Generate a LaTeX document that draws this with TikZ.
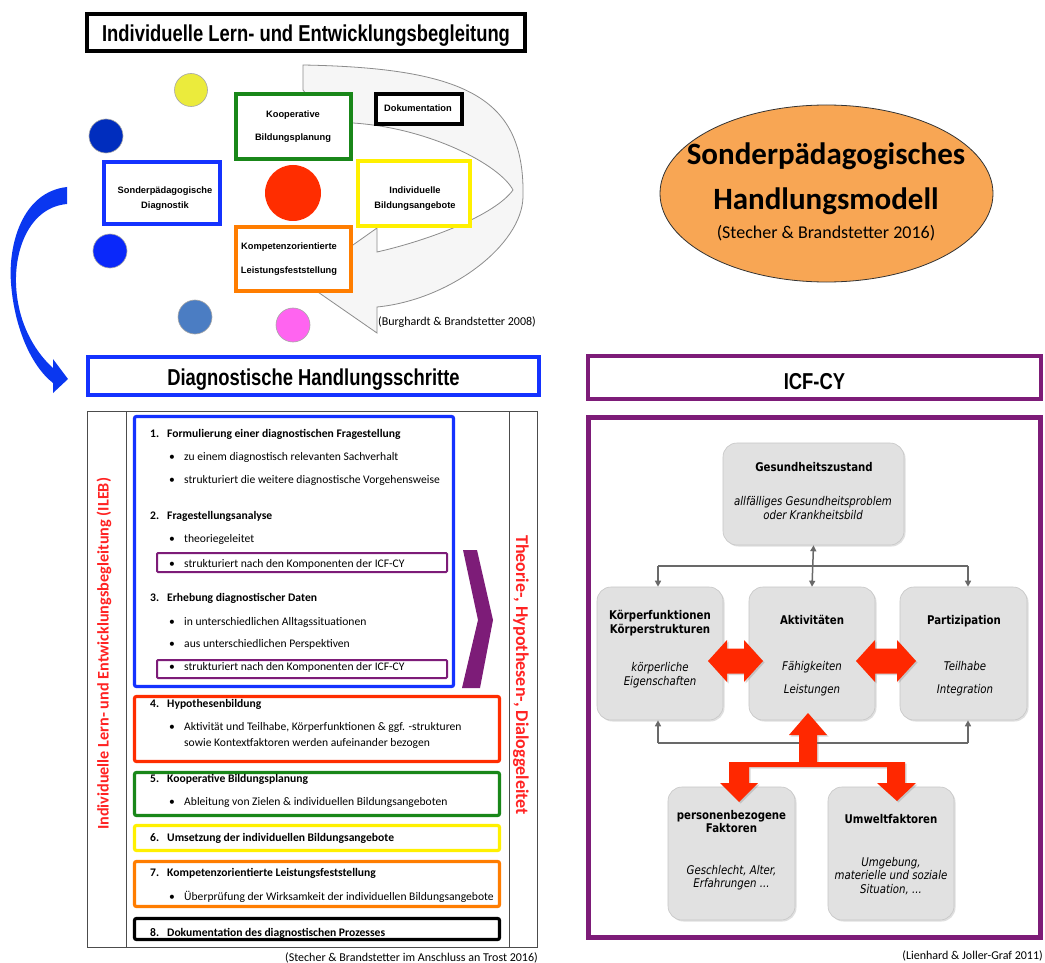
\documentclass[tikz,border=0pt]{standalone}
\usepackage{fontspec}
\setmainfont{Carlito}
\newfontfamily\narrowfont{Liberation Sans}[FakeStretch=0.8]
\newfontfamily\icffont{DejaVu Sans}[FakeStretch=0.85]
\newfontfamily\cyclefont{Liberation Sans}
\usetikzlibrary{shapes.geometric,arrows.meta,shadows}
\definecolor{cblue}{RGB}{20,50,255}
\definecolor{cnavy}{RGB}{0,45,190}
\definecolor{cblue2}{RGB}{10,40,250}
\definecolor{csteel}{RGB}{75,125,195}
\definecolor{cmag}{RGB}{255,100,240}
\definecolor{cyel}{RGB}{235,235,60}
\definecolor{cyellow}{RGB}{255,240,0}
\definecolor{cgreen}{RGB}{25,135,25}
\definecolor{corange}{RGB}{255,125,0}
\definecolor{cred}{RGB}{255,45,0}
\definecolor{cpurple}{RGB}{125,28,120}
\definecolor{cellipse}{RGB}{248,166,84}
\definecolor{icfgray}{RGB}{225,225,225}
\definecolor{icfdark}{RGB}{105,105,105}
\definecolor{redtext}{RGB}{255,35,35}
\definecolor{bandgray}{RGB}{246,246,246}
\definecolor{bandline}{RGB}{140,140,140}
\definecolor{arrowred}{RGB}{255,40,0}
\definecolor{arrowblue}{RGB}{10,55,240}
\tikzset{
  Tri/.tip={Triangle[length=6pt,width=6pt]},
  shad/.style={drop shadow={shadow xshift=1.5pt,shadow yshift=-1.5pt,opacity=0.3}},
  hdr/.style={draw, line width=4pt, fill=white, inner sep=0pt, shad},
  hdrtext/.style={font=\narrowfont\bfseries\fontsize{23}{26}\selectfont, anchor=base, inner sep=0pt},
  cbox/.style={draw, line width=3.5pt, fill=white, inner sep=0pt, shad},
  ctext/.style={font=\cyclefont\bfseries\fontsize{9.3}{11}\selectfont, anchor=base, inner sep=0pt},
  circ/.style={circle, draw=gray!70, line width=0.6pt, inner sep=0pt},
  sbox/.style={draw, line width=3.2pt, rounded corners=2pt, fill=white, inner sep=0pt,
     drop shadow={shadow xshift=1pt,shadow yshift=-1pt,opacity=0.25}},
  pbox/.style={draw=cpurple, line width=2pt, rounded corners=1pt, fill=white, inner sep=0pt},
  lb/.style={font=\bfseries\fontsize{11.6}{14}\selectfont, anchor=base west, inner sep=0pt},
  lr/.style={font=\fontsize{11.6}{14}\selectfont, anchor=base west, inner sep=0pt},
  capt/.style={font=\fontsize{12}{14}\selectfont, inner sep=0pt},
  icfbox/.style={rounded corners=14pt, fill=icfgray, draw=gray!45, line width=0.6pt, inner sep=0pt,
     drop shadow={shadow xshift=1.5pt,shadow yshift=-1.5pt,opacity=0.25}},
  icft/.style={font=\icffont\bfseries\fontsize{12}{14}\selectfont, anchor=base, inner sep=0pt},
  icfi/.style={font=\icffont\itshape\fontsize{12}{14}\selectfont, anchor=base, inner sep=0pt},
  icfline/.style={draw=icfdark, line width=1.5pt},
  redarrow/.style={fill=arrowred, drop shadow={shadow xshift=1.5pt,shadow yshift=-1.5pt,opacity=0.3}},
  vtext/.style={font=\bfseries\selectfont, text=redtext, inner sep=0pt}
}
\begin{document}
\begin{tikzpicture}[x=1pt,y=-1pt]
\useasboundingbox (0,0) rectangle (1045,963);
\fill[white] (0,0) rectangle (1045,963);

% ---------------- top left: ILEB cycle ----------------
\node[hdr, minimum width=438pt, minimum height=37pt] (title) at (306,32.5) {};
\node[hdrtext] (titlet) at (306,41.5) {Individuelle Lern- und Entwicklungsbegleitung};

% gray curved band arrow
\path[fill=bandgray, draw=bandline, line width=0.8pt]
  (303,65) .. controls (470,68) and (525,100) .. (523,197)
  .. controls (522,245) and (450,300) .. (377,307)
  -- (377,333) -- (302,281) -- (377,228) -- (377,252)
  .. controls (430,240) and (495,215) .. (513,190)
  .. controls (500,165) and (430,128) .. (353,123)
  .. controls (330,115) and (310,100) .. (303,90) -- cycle;

% circles
\node[circ, fill=cyel, minimum size=33pt] (cy) at (191,90) {};
\node[circ, fill=cnavy, minimum size=34pt] (cn) at (106,136) {};
\node[circ, fill=cblue2, minimum size=34pt] (cb) at (110,251) {};
\node[circ, fill=csteel, minimum size=34pt] (cs) at (195,317) {};
\node[circ, fill=cmag, minimum size=34pt] (cm) at (293,325) {};
\node[circ, fill=cred, draw=none, minimum size=56pt] (cr) at (293,193) {};

% boxes of the cycle
\node[cbox, draw=cgreen, minimum width=115pt, minimum height=65pt] (koop) at (293.5,126.5) {};
\node[cbox, draw=black, minimum width=86pt, minimum height=30pt] (doku) at (419,109) {};
\node[cbox, draw=cblue, minimum width=116pt, minimum height=62pt] (sdiag) at (162,193) {};
\node[cbox, draw=cyellow, minimum width=112pt, minimum height=65pt] (ibild) at (414,193.5) {};
\node[cbox, draw=corange, minimum width=115pt, minimum height=64pt] (kompl) at (293.5,259) {};

\node[ctext] (koop1) at (293,117.5) {Kooperative};
\node[ctext] (koop2) at (293,140.5) {Bildungsplanung};
\node[ctext] (doku1) at (418,111.5) {Dokumentation};
\node[ctext] (sdiag1) at (165,193.5) {Sonderpädagogische};
\node[ctext] (sdiag2) at (165,208.5) {Diagnostik};
\node[ctext] (ibild1) at (415,193.5) {Individuelle};
\node[ctext] (ibild2) at (415,208.5) {Bildungsangebote};
\node[ctext] (kompl1) at (289,249.5) {Kompetenzorientierte};
\node[ctext] (kompl2) at (289,273.5) {Leistungsfeststellung};

\node[capt, anchor=base west] (burg) at (378,325) {(Burghardt \& Brandstetter 2008)};

% blue curved arrow
\path[fill=arrowblue]
  (67,187) .. controls (22,192) and (8,245) .. (11,283)
  .. controls (14,325) and (30,365) .. (53,383)
  -- (53,393) -- (68,379) -- (53,359) -- (53,368)
  .. controls (33,350) and (17,320) .. (16,283)
  .. controls (15,245) and (32,207) .. (67,204) -- cycle;

% ---------------- ellipse ----------------
\node[ellipse, draw=black!80, line width=0.8pt, fill=cellipse, minimum width=333pt, minimum height=177pt] (hm) at (826.5,193.5) {};
\node[font=\bfseries\fontsize{31}{34}\selectfont, anchor=base, inner sep=0pt] (hm1) at (826,165) {Sonderpädagogisches};
\node[font=\bfseries\fontsize{31}{34}\selectfont, anchor=base, inner sep=0pt] (hm2) at (826,209) {Handlungsmodell};
\node[font=\fontsize{18}{20}\selectfont, anchor=base, inner sep=0pt] (hm3) at (826,238) {(Stecher \& Brandstetter 2016)};

% ---------------- left: diagnostic steps ----------------
\node[hdr, draw=cblue, minimum width=451pt, minimum height=38pt] (diag) at (313.5,376) {};
\node[hdrtext] (diagt) at (313.5,385) {Diagnostische Handlungsschritte};

\draw[black!70, line width=0.9pt] (87,411) rectangle (537,947);
\draw[black!70, line width=0.9pt] (126,411) -- (126,947);
\draw[black!70, line width=0.9pt] (509,411) -- (509,947);

\node[vtext, rotate=90, font=\bfseries\fontsize{16.2}{18}\selectfont] (ileb) at (104,654) {Individuelle Lern- und Entwicklungsbegleitung (ILEB)};
\node[vtext, rotate=-90, font=\bfseries\fontsize{18}{20}\selectfont] (thd) at (521,675) {Theorie-, Hypothesen-, Dialoggeleitet};

\node[sbox, draw=cblue, minimum width=319pt, minimum height=270pt] (s13) at (294,551.5) {};
\node[sbox, draw=cred, minimum width=365pt, minimum height=65pt] (s4) at (317,729) {};
\node[sbox, draw=cgreen, minimum width=365pt, minimum height=43pt] (s5) at (317,794) {};
\node[sbox, draw=cyellow, minimum width=365pt, minimum height=25pt] (s6) at (317,838) {};
\node[sbox, draw=corange, minimum width=365pt, minimum height=45pt] (s7) at (317,884) {};
\node[sbox, draw=black, minimum width=365pt, minimum height=21pt] (s8) at (317,929) {};
\node[pbox, minimum width=290pt, minimum height=19pt] (p1) at (302,562.5) {};
\node[pbox, minimum width=290pt, minimum height=18pt] (p2) at (302,669) {};

\fill[cpurple] (463,550) -- (477,550) -- (493,620) -- (480,688) -- (462,688) -- (478,620) -- cycle;

\node[lb] (n1) at (150,437) {1.};
\node[lb] (t1) at (167,437) {Formulierung einer diagnostischen Fragestellung};
\node[lr] (b11) at (169,460) {•};
\node[lr] (t11) at (184,460) {zu einem diagnostisch relevanten Sachverhalt};
\node[lr] (b12) at (169,483) {•};
\node[lr] (t12) at (184,483) {strukturiert die weitere diagnostische Vorgehensweise};
\node[lb] (n2) at (150,519) {2.};
\node[lb] (t2) at (167,519) {Fragestellungsanalyse};
\node[lr] (b21) at (169,542) {•};
\node[lr] (t21) at (184,542) {theoriegeleitet};
\node[lr] (b22) at (169,567) {•};
\node[lr] (t22) at (184,567) {strukturiert nach den Komponenten der ICF-CY};
\node[lb] (n3) at (150,601) {3.};
\node[lb] (t3) at (167,601) {Erhebung diagnostischer Daten};
\node[lr] (b31) at (169,625) {•};
\node[lr] (t31) at (184,625) {in unterschiedlichen Alltagssituationen};
\node[lr] (b32) at (169,647) {•};
\node[lr] (t32) at (184,647) {aus unterschiedlichen Perspektiven};
\node[lr] (b33) at (169,670) {•};
\node[lr] (t33) at (184,670) {strukturiert nach den Komponenten der ICF-CY};
\node[lb] (n4) at (150,707) {4.};
\node[lb] (t4) at (167,707) {Hypothesenbildung};
\node[lr] (b41) at (169,730) {•};
\node[lr] (t41) at (184,730) {Aktivität und Teilhabe, Körperfunktionen \& ggf. -strukturen};
\node[lr] (t42) at (184,746) {sowie Kontextfaktoren werden aufeinander bezogen};
\node[lb] (n5) at (150,782) {5.};
\node[lb] (t5) at (167,782) {Kooperative Bildungsplanung};
\node[lr] (b51) at (169,805) {•};
\node[lr] (t51) at (184,805) {Ableitung von Zielen \& individuellen Bildungsangeboten};
\node[lb] (n6) at (150,841) {6.};
\node[lb] (t6) at (167,841) {Umsetzung der individuellen Bildungsangebote};
\node[lb] (n7) at (150,876) {7.};
\node[lb] (t7) at (167,876) {Kompetenzorientierte Leistungsfeststellung};
\node[lr] (b71) at (169,900) {•};
\node[lr] (t71) at (184,900) {Überprüfung der Wirksamkeit der individuellen Bildungsangebote};
\node[lb] (n8) at (150,936) {8.};
\node[lb] (t8) at (167,936) {Dokumentation des diagnostischen Prozesses};

\node[capt, anchor=base east] (stecher) at (538,961) {(Stecher \& Brandstetter im Anschluss an Trost 2016)};

% ---------------- right: ICF-CY ----------------
\node[hdr, draw=cpurple, minimum width=453pt, minimum height=43pt] (icfh) at (814.5,377.5) {};
\node[hdrtext] (icfht) at (814.5,389) {ICF-CY};
\node[draw=cpurple, line width=5pt, fill=white, inner sep=0pt, minimum width=452pt, minimum height=520pt, shad] (icff) at (814.5,677.5) {};

\node[icfbox, minimum width=181pt, minimum height=102pt] (gz) at (813.5,494) {};
\node[icfbox, minimum width=126pt, minimum height=133pt] (kf) at (660,653.5) {};
\node[icfbox, minimum width=126pt, minimum height=133pt] (akt) at (812,653.5) {};
\node[icfbox, minimum width=127pt, minimum height=133pt] (part) at (963.5,653.5) {};
\node[icfbox, minimum width=127pt, minimum height=133pt] (pers) at (731.5,853.5) {};
\node[icfbox, minimum width=126pt, minimum height=133pt] (umw) at (891,853.5) {};

\draw[icfline, Tri-Tri] (gz.south) -- (akt.north);
\coordinate (tl) at (658,566);
\coordinate (tr) at (968,566);
\draw[icfline] (tl) -- (tr);
\draw[icfline, -Tri] (tl) -- (tl |- kf.north);
\draw[icfline, -Tri] (tr) -- (tr |- part.north);
\coordinate (bl) at (658,743);
\coordinate (br) at (968,743);
\draw[icfline] (bl) -- (br);
\draw[icfline, -Tri] (bl) -- (bl |- kf.south);
\draw[icfline, -Tri] (br) -- (br |- part.south);

\node[icft] (gz1) at (814,471.5) {Gesundheitszustand};
\node[icfi] (gz2) at (813,505) {allfälliges Gesundheitsproblem};
\node[icfi] (gz3) at (813,519) {oder Krankheitsbild};
\node[icft] (kf1) at (660,619.5) {Körperfunktionen};
\node[icft] (kf2) at (660,633.5) {Körperstrukturen};
\node[icfi] (kf3) at (660,671) {körperliche};
\node[icfi] (kf4) at (660,685) {Eigenschaften};
\node[icft] (akt1) at (812,624.5) {Aktivitäten};
\node[icfi] (akt2) at (812,670) {Fähigkeiten};
\node[icfi] (akt3) at (812,693) {Leistungen};
\node[icft] (part1) at (964,624.5) {Partizipation};
\node[icfi] (part2) at (965,670) {Teilhabe};
\node[icfi] (part3) at (965,693) {Integration};
\node[icft] (pers1) at (731.5,819.5) {personenbezogene};
\node[icft] (pers2) at (731.5,832.5) {Faktoren};
\node[icfi] (pers3) at (731.5,874) {Geschlecht, Alter,};
\node[icfi] (pers4) at (731.5,887) {Erfahrungen ...};
\node[icft] (umw1) at (891,823.5) {Umweltfaktoren};
\node[icfi] (umw2) at (891,866) {Umgebung,};
\node[icfi] (umw3) at (891,879) {materielle und soziale};
\node[icfi] (umw4) at (891,893) {Situation, ...};

% red block arrows
\path[redarrow] (708,661) -- (727,640) -- (727,648.5) -- (744,648.5) -- (744,640) -- (763,661)
  -- (744,682) -- (744,673.5) -- (727,673.5) -- (727,682) -- cycle;
\path[redarrow] (856,661) -- (875,640) -- (875,648.5) -- (897,648.5) -- (897,640) -- (916,661)
  -- (897,682) -- (897,673.5) -- (875,673.5) -- (875,682) -- cycle;
\path[redarrow] (808,713) -- (827,735) -- (817,735) -- (817,762) -- (905,762) -- (905,783)
  -- (916,783) -- (897,801) -- (877,783) -- (887,783) -- (887,767) -- (749,767) -- (749,783)
  -- (758,783) -- (739,802) -- (720,783) -- (729,783) -- (729,762) -- (799,762) -- (799,735)
  -- (789,735) -- cycle;

\node[capt, anchor=base east] (lien) at (1043,959) {(Lienhard \& Joller-Graf 2011)};
\end{tikzpicture}
\end{document}
